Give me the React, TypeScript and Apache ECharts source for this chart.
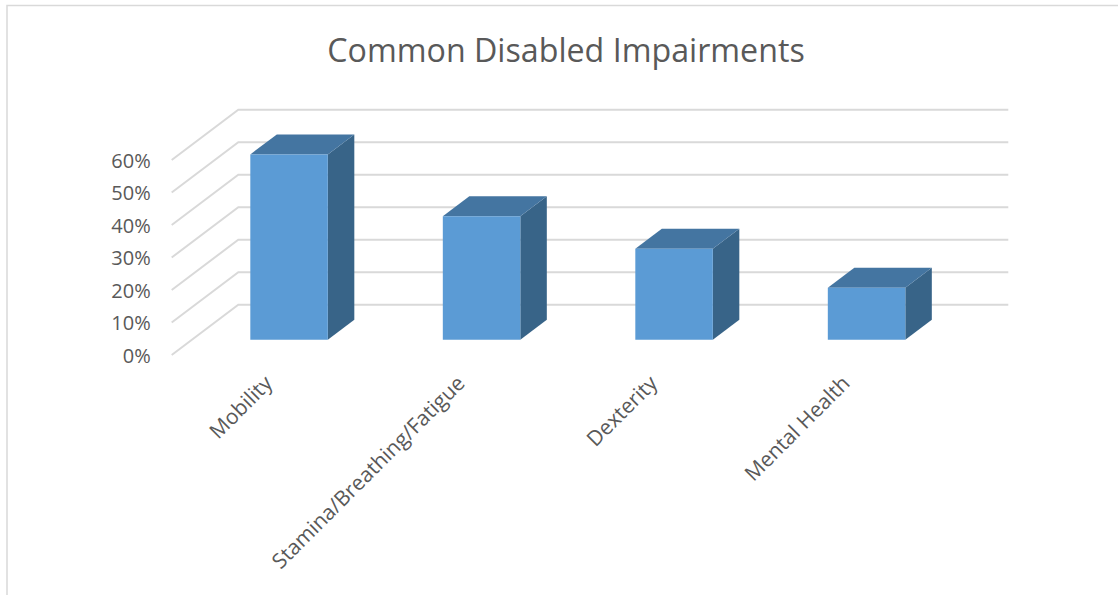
import React, { useEffect, useRef } from "react";
import * as echarts from "echarts";

const categories = ["Mobility", "Stamina/Breathing/Fatigue", "Dexterity", "Mental Health"];
const shares = [57, 38, 28, 16];
const yTicks = [0, 10, 20, 30, 40, 50, 60];

// Oblique projection: how far the back wall sits from the front plane, in pixels.
const WALL_DX = 66.6;
const WALL_DY = 50.3;
// Bar depth, as fractions of the floor depth, and width as a fraction of a category band.
const BAR_FRONT = 0.305;
const BAR_BACK = 0.703;
const BAR_WIDTH = 0.4026;
const BAR_NUDGE = 0.8;

const TEXT = "#595959";
const GRID = "#d9d9d9";
const FONT = "'Open Sans', sans-serif";

export default function App() {
  const ref = useRef<HTMLDivElement>(null);

  useEffect(() => {
    const chart = echarts.init(ref.current!, null, { renderer: "svg" });

    const renderWall = (_: any, api: any) => {
      const v = api.value(1);
      const band = api.size([1, 0])[0];
      const start = api.coord([0, v]);
      const end = api.coord([categories.length - 1, v]);
      const xFront = start[0] - band / 2;
      const xBack = xFront + WALL_DX;
      const yBack = start[1] - WALL_DY;
      return {
        type: "polyline",
        shape: {
          points: [
            [xFront, start[1]],
            [xBack, yBack],
            [end[0] + band / 2 + WALL_DX, yBack],
          ],
        },
        style: { stroke: GRID, lineWidth: 2, fill: "none" },
      };
    };

    const renderBar = (_: any, api: any) => {
      const idx = api.value(0);
      const band = api.size([1, 0])[0];
      const w = band * BAR_WIDTH;
      const base = api.coord([idx, 0]);
      const top = api.coord([idx, api.value(1)]);
      const x0 = base[0] - w / 2 + BAR_FRONT * WALL_DX + BAR_NUDGE;
      const x1 = x0 + w;
      const yb = base[1] - BAR_FRONT * WALL_DY;
      const yt = top[1] - BAR_FRONT * WALL_DY;
      const dx = (BAR_BACK - BAR_FRONT) * WALL_DX;
      const dy = (BAR_BACK - BAR_FRONT) * WALL_DY;
      return {
        type: "group",
        children: [
          {
            type: "polygon",
            shape: { points: [[x1, yt], [x1 + dx, yt - dy], [x1 + dx, yb - dy], [x1, yb]] },
            style: { fill: "#386488" },
          },
          {
            type: "polygon",
            shape: { points: [[x0, yt], [x0 + dx, yt - dy], [x1 + dx, yt - dy], [x1, yt]] },
            style: { fill: "#4475a1" },
          },
          {
            type: "polygon",
            shape: { points: [[x0, yt], [x1, yt], [x1, yb], [x0, yb]] },
            style: { fill: "#5b9bd5" },
          },
        ],
      };
    };

    chart.setOption({
      animation: false,
      backgroundColor: "#ffffff",
      title: {
        text: "Common Disabled Impairments",
        left: 561,
        top: 28,
        textAlign: "center",
        textStyle: { color: TEXT, fontFamily: FONT, fontSize: 32.2, fontWeight: "normal" },
      },
      grid: { left: 171.7, top: 160, width: 770, height: 195, containLabel: false },
      xAxis: {
        type: "category",
        data: categories,
        axisLine: { show: false },
        axisTick: { show: false },
        axisLabel: {
          interval: 0,
          rotate: 45,
          margin: 24,
          color: TEXT,
          fontFamily: FONT,
          fontSize: 21,
        },
      },
      yAxis: {
        type: "value",
        min: 0,
        max: 60,
        interval: 10,
        axisLine: { show: false },
        axisTick: { show: false },
        splitLine: { show: false },
        axisLabel: {
          formatter: (v: number) => `${v}%`,
          margin: 21,
          color: TEXT,
          fontFamily: FONT,
          fontSize: 20,
        },
      },
      graphic: [
        {
          type: "polyline",
          shape: { points: [[7, 595], [7, 5.5], [1118, 5.5]] },
          style: { stroke: GRID, lineWidth: 1.5, fill: "none" },
          silent: true,
        },
      ],
      series: [
        {
          type: "custom",
          renderItem: renderWall,
          data: yTicks.map((v) => [0, v]),
          encode: { x: 0, y: 1 },
          silent: true,
          z: 1,
        },
        {
          type: "custom",
          renderItem: renderBar,
          data: shares.map((v, i) => [i, v]),
          encode: { x: 0, y: 1 },
          silent: true,
          z: 2,
        },
      ],
    });

    return () => chart.dispose();
  }, []);

  return (
    <div
      ref={ref}
      style={{ position: "absolute", left: 0, top: 0, width: 1118, height: 595 }}
    />
  );
}
